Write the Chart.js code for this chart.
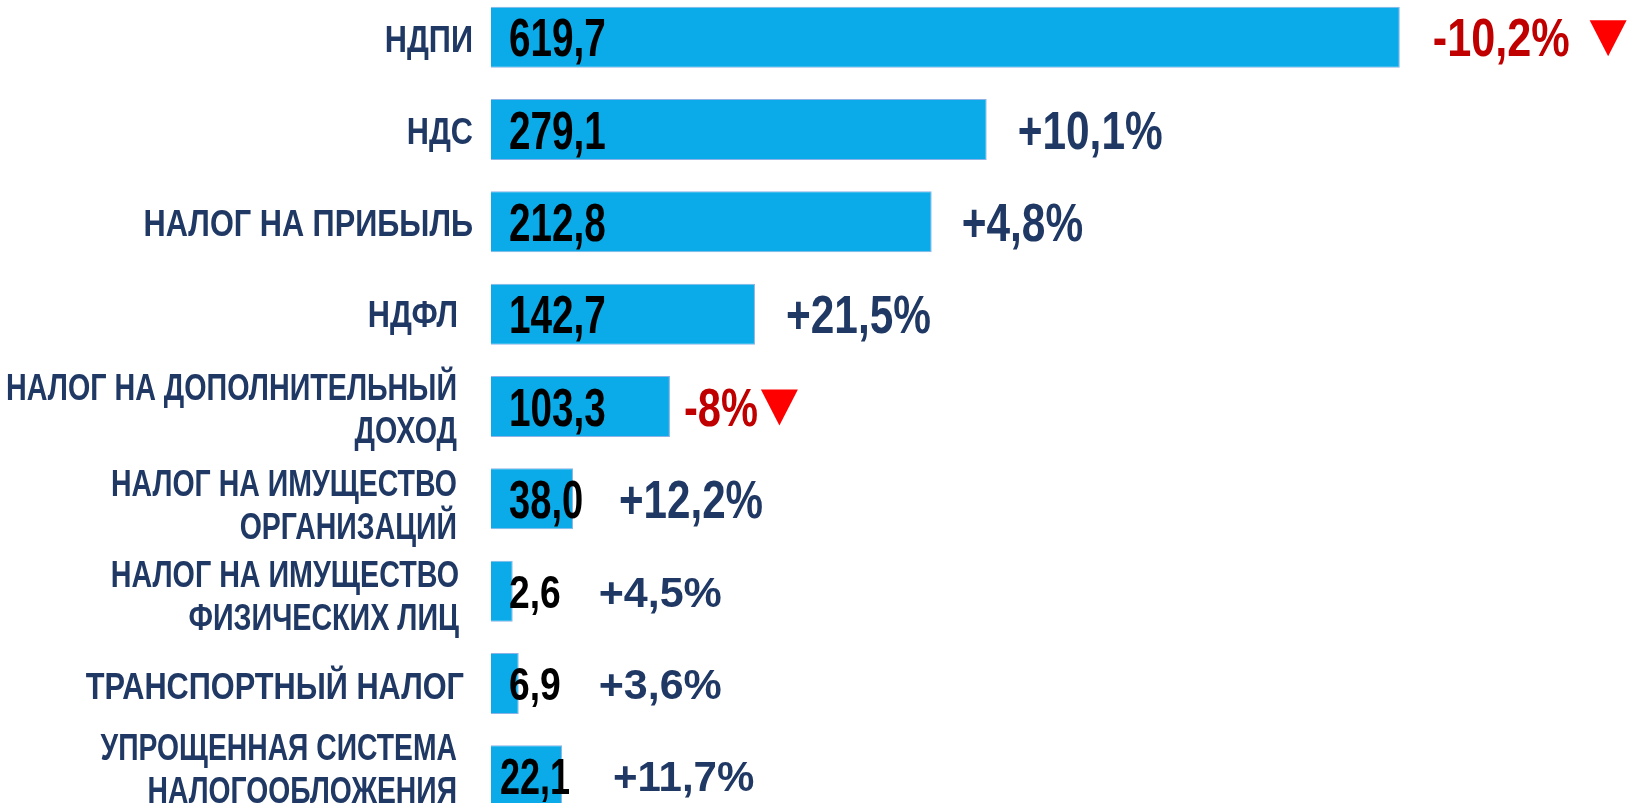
<!DOCTYPE html>
<html><head><meta charset="utf-8">
<script src="https://cdn.jsdelivr.net/npm/chart.js@4"></script>
<style>
html,body{margin:0;padding:0;background:#fff;overflow:hidden;width:1629px;height:803px}
#wrap{position:absolute;left:0;top:-9px;width:1629px;height:831px}
</style>
</head><body><div id="wrap"><canvas id="c" width="1629" height="831"></canvas></div>
<script>
// ---- data ----
const categories = [
  ['НДПИ'], ['НДС'], ['НАЛОГ НА ПРИБЫЛЬ'], ['НДФЛ'],
  ['НАЛОГ НА ДОПОЛНИТЕЛЬНЫЙ', 'ДОХОД'],
  ['НАЛОГ НА ИМУЩЕСТВО', 'ОРГАНИЗАЦИЙ'],
  ['НАЛОГ НА ИМУЩЕСТВО', 'ФИЗИЧЕСКИХ ЛИЦ'],
  ['ТРАНСПОРТНЫЙ НАЛОГ'],
  ['УПРОЩЕННАЯ СИСТЕМА', 'НАЛОГООБЛОЖЕНИЯ']
];
const amounts = [619.7, 279.1, 212.8, 142.7, 103.3, 38.0, 2.6, 6.9, 22.1];
// bar lengths as drawn in the source infographic (not proportional to the amounts)
const barLengths = [619.7, 338.0, 300.5, 180.0, 122.0, 55.9, 14.8, 18.9, 48.4];
const changes = [-10.2, 10.1, 4.8, 21.5, -8, 12.2, 4.5, 3.6, 11.7];

// ---- styling (layout only) ----
const labelRight = [473, 473, 473, 458, 457, 457, 459, 464, 457];
const labelDy = [2, 1, 1, 0, 2, 5, 4, 2, -8];
const labelScaleX = [0.83, 0.83, 0.83, 0.83, 0.775, 0.77, 0.775, 0.83, 0.765];
const valueSize = [53, 53, 53, 53, 53, 53, 46, 46, 50];
const valueScaleX = [0.73, 0.73, 0.73, 0.73, 0.73, 0.72, 0.81, 0.81, 0.72];
const valueOffset = [18, 18, 18, 18, 18, 18, 18, 18, 9];
const changeOffset = [33, 31, 30, 31, 14, 46, 86, 80, 51];
const changeSize = [53, 53, 53, 53, 53, 53, 43, 43, 42];
const changeScaleX = [0.815, 0.80, 0.80, 0.80, 0.785, 0.795, 1, 1, 1];
const triGap = [20, 20, 20, 20, 3, 20, 20, 20, 20];

const FONT = '"Liberation Sans", Arial, sans-serif';
const NAVY = '#1F3864';
const DARKRED = '#C00000';

function fmtAmount(v) { return v.toFixed(1).replace('.', ','); }
function fmtChange(v) {
  const s = Number.isInteger(v) ? String(Math.abs(v)) : Math.abs(v).toFixed(1).replace('.', ',');
  return (v < 0 ? '-' : '+') + s + '%';
}
function drawScaled(ctx, text, x, y, align, sx) {
  ctx.save();
  ctx.translate(x, y);
  ctx.scale(sx, 1);
  ctx.textAlign = align;
  ctx.fillText(text, 0, 0);
  const w = ctx.measureText(text).width * sx;
  ctx.restore();
  return w;
}

const textPlugin = {
  id: 'texts',
  afterDatasetsDraw(chart) {
    const ctx = chart.ctx;
    const meta = chart.getDatasetMeta(0);
    meta.data.forEach((el, i) => {
      const cy = el.y;
      ctx.save();
      ctx.textBaseline = 'alphabetic';
      // category labels
      ctx.fillStyle = NAVY;
      ctx.font = 'bold 37px ' + FONT;
      const lines = categories[i];
      const lh = 43;
      const startY = cy + labelDy[i] - (lines.length - 1) * lh / 2;
      lines.forEach((ln, k) => {
        drawScaled(ctx, ln, labelRight[i], startY + k * lh + 0.36 * 37, 'right', labelScaleX[i]);
      });
      // amount labels
      const vs = valueSize[i];
      ctx.fillStyle = '#000';
      ctx.font = 'bold ' + vs + 'px ' + FONT;
      drawScaled(ctx, fmtAmount(amounts[i]), el.base + valueOffset[i], cy + 0.36 * vs, 'left', valueScaleX[i]);
      // change labels
      const cs = changeSize[i];
      ctx.font = 'bold ' + cs + 'px ' + FONT;
      const neg = changes[i] < 0;
      ctx.fillStyle = neg ? DARKRED : NAVY;
      const tx = el.x + changeOffset[i];
      const w = drawScaled(ctx, fmtChange(changes[i]), tx, cy + 0.36 * cs, 'left', changeScaleX[i]);
      if (neg) {
        const x0 = tx + w + triGap[i];
        const tw = 37, th = 36;
        const top = cy - 17;
        ctx.fillStyle = '#FF0000';
        ctx.beginPath();
        ctx.moveTo(x0, top);
        ctx.lineTo(x0 + tw, top);
        ctx.lineTo(x0 + tw / 2, top + th);
        ctx.closePath();
        ctx.fill();
      }
      ctx.restore();
    });
  }
};

new Chart(document.getElementById('c'), {
  type: 'bar',
  data: {
    labels: categories,
    datasets: [{
      data: barLengths,
      backgroundColor: '#0AABE8',
      borderColor: '#8DB3E6',
      borderWidth: 1,
      barPercentage: 0.66,
      categoryPercentage: 1.0
    }]
  },
  options: {
    indexAxis: 'y',
    responsive: false,
    animation: false,
    devicePixelRatio: 1,
    layout: { padding: { left: 491, right: 0, top: 0, bottom: 0 } },
    plugins: { legend: { display: false }, tooltip: { enabled: false } },
    scales: {
      x: { display: false, min: 0, max: 776, grid: { display: false } },
      y: { display: false, grid: { display: false } }
    }
  },
  plugins: [textPlugin]
});
</script>
</body></html>
